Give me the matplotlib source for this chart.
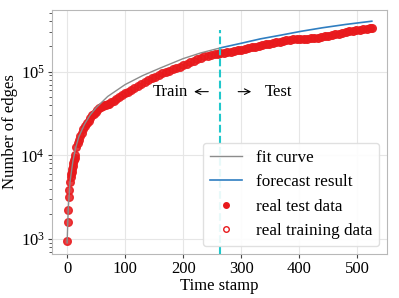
import matplotlib
matplotlib.use("Agg")
from matplotlib import pyplot as plt
from matplotlib.lines import Line2D

# fit curve (training range)
fit_t = [0, 2, 5, 10, 15, 20, 30, 40, 50, 70, 100, 130, 160, 200, 230, 264]
fit_v = [900, 2300, 4800, 8500, 12500, 16500, 23500, 30500, 37000, 50500,
         70000, 89500, 110000, 143000, 167000, 192000]

# forecast result (test range)
fc_t = [264, 300, 333, 370, 402, 440, 480, 525]
fc_v = [192000, 218000, 246000, 274000, 302000, 334000, 366000, 400000]

# real training data
train_t = [0, 1, 2, 3, 4, 5, 6, 7, 8, 9, 10, 11, 12, 13, 14, 16, 18, 20, 22,
           25, 28, 31, 34, 37, 40, 43, 46, 49, 52, 55, 58, 61, 64, 67, 70,
           73, 76, 80, 85, 90, 95, 100, 105, 110, 116, 122, 128, 134, 140,
           146, 152, 158, 164, 170, 176, 182, 188, 194, 200, 206, 212, 218,
           224, 230, 236, 242, 248, 254, 260]
train_v = [940, 1600, 2200, 3200, 3900, 4800, 5500, 6000, 6400, 6900, 7400,
           8100, 8800, 9400, 10000, 12500, 14000, 15200, 17000, 18500, 20500,
           22500, 24500, 26000, 28000, 30000, 31500, 33000, 35000, 36500,
           38000, 39000, 39500, 40000, 40500, 41500, 43000, 45000, 47500,
           50000, 52500, 55000, 57500, 60000, 63500, 67000, 71000, 75000,
           79000, 83000, 87000, 91000, 95000, 99000, 103000, 107000, 111000,
           115000, 119000, 124000, 129000, 135000, 141000, 147000, 152000,
           155000, 158000, 161000, 164000]

# real test data
test_t = [264, 270, 276, 282, 288, 294, 300, 306, 312, 318, 324, 330, 336,
          342, 348, 354, 360, 366, 372, 378, 384, 390, 396, 402, 408, 414,
          420, 426, 432, 438, 444, 450, 456, 462, 468, 474, 480, 486, 492,
          498, 504, 510, 516, 522, 525]
test_v = [166000, 168000, 170000, 173000, 176000, 179000, 183000, 187000,
          191000, 195000, 199000, 203000, 207000, 211000, 215000, 219000,
          223000, 228000, 232000, 236000, 239000, 242000, 244000, 246000,
          247000, 248000, 249000, 251000, 254000, 258000, 263000, 268000,
          273000, 279000, 285000, 291000, 297000, 302000, 307000, 311000,
          316000, 320000, 324000, 328000, 330000]

split_t = 264

plt.rcParams['font.family'] = ['Liberation Serif', 'DejaVu Serif']
plt.rcParams['mathtext.fontset'] = 'stix'

red = '#e8191c'

fig = plt.figure(figsize=(3.99, 2.98), dpi=100)
ax = fig.add_axes([0.130, 0.148, 0.840, 0.818])

ax.plot(train_t, train_v, 'o', ms=5.5, color=red, mec=red, mew=1.0,
        alpha=0.85, zorder=2)
ax.plot(test_t, test_v, 'o', ms=5.5, color=red, mec=red, mew=1.0,
        alpha=0.9, zorder=2)
ax.plot(fit_t, fit_v, color='#8c8c8c', lw=1.0, zorder=3)
ax.plot(fc_t, fc_v, color='#2f7ec1', lw=1.2, zorder=3)

ax.set_yscale('log')
ax.axvline(split_t, ymin=0, ymax=0.92, color='#20c8cc', ls='--', lw=1.5, zorder=4)

ax.text(208, 57600, 'Train', fontsize=12, ha='right', va='center')
ax.annotate('', xy=(214, 57600), xytext=(248, 57600),
            arrowprops=dict(arrowstyle='->', lw=0.8, color='black'))
ax.annotate('', xy=(322, 57600), xytext=(290, 57600),
            arrowprops=dict(arrowstyle='->', lw=0.8, color='black'))
ax.text(340, 57600, 'Test', fontsize=12, ha='left', va='center')

ax.set_xlabel('Time stamp', fontsize=12, labelpad=1)
ax.set_ylabel('Number of edges', fontsize=12, labelpad=2)

ax.grid(True, which='major', color='#e6e6e6', lw=0.8)
ax.set_axisbelow(True)
for s in ax.spines.values():
    s.set_color('#b8b8b8')
ax.tick_params(which='major', labelsize=12, length=3, color='#444444', pad=2)
ax.tick_params(which='minor', length=2, color='#444444')
ax.tick_params(axis='x', which='minor', bottom=False)

handles = [
    Line2D([], [], color='#8c8c8c', lw=1.0),
    Line2D([], [], color='#2f7ec1', lw=1.2),
    Line2D([], [], ls='none', marker='o', ms=4, color=red),
    Line2D([], [], ls='none', marker='o', ms=4, mfc='white', mec=red, mew=1.0),
]
labels = ['fit curve', 'forecast result', 'real test data', 'real training data']
ax.legend(handles, labels, loc='lower right', fontsize=12.3, framealpha=0.9,
          edgecolor='#dddddd', borderaxespad=0.45, handlelength=1.9)

fig.savefig('out.png', dpi=100)
